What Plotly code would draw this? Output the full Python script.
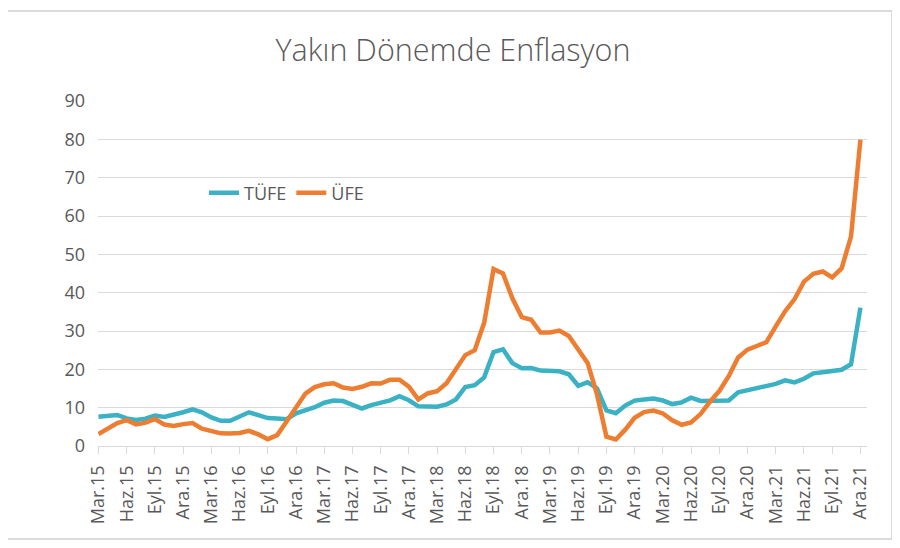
import plotly.graph_objects as go

# ---- data -----------------------------------------------------------
month_abbr = ["Oca", "Şub", "Mar", "Nis", "May", "Haz",
              "Tem", "Ağu", "Eyl", "Eki", "Kas", "Ara"]
start_year, start_month = 2015, 3   # Mar.15
end_year, end_month = 2021, 12      # Ara.21

tufe = [
    7.61, 7.91, 8.09, 7.20, 6.81, 7.14, 7.95, 7.58, 8.10, 8.81,
    9.58, 8.78, 7.46, 6.57, 6.58, 7.64, 8.79, 8.05, 7.28, 7.16, 7.00, 8.53,
    9.22, 10.13, 11.29, 11.87, 11.72, 10.90, 9.79, 10.68, 11.20, 11.90, 12.98, 11.92,
    10.35, 10.26, 10.23, 10.85, 12.15, 15.39, 15.85, 17.90, 24.52, 25.24, 21.62, 20.30,
    20.35, 19.67, 19.71, 19.50, 18.71, 15.72, 16.65, 15.01, 9.26, 8.55, 10.56, 11.84,
    12.15, 12.37, 11.86, 10.94, 11.39, 12.62, 11.76, 11.77, 11.75, 11.89, 14.03, 14.60,
    14.97, 15.61, 16.19, 17.14, 16.59, 17.53, 18.95, 19.25, 19.58, 19.89, 21.31, 36.08,
]

ufe = [
    3.10, 4.71, 6.00, 6.73, 5.62, 6.10, 7.02, 5.60, 5.20, 5.71,
    6.00, 4.50, 3.80, 3.30, 3.25, 3.41, 3.96, 3.03, 1.78, 2.84, 6.41, 9.94,
    13.69, 15.36, 16.09, 16.37, 15.26, 14.87, 15.45, 16.34, 16.28, 17.28, 17.30, 15.47,
    12.14, 13.71, 14.28, 16.37, 20.16, 23.71, 25.00, 32.13, 46.15, 45.01, 38.54, 33.64,
    32.93, 29.59, 29.64, 30.12, 28.71, 25.04, 21.66, 13.45, 2.45, 1.70, 4.26, 7.36,
    8.84, 9.26, 8.50, 6.71, 5.53, 6.17, 8.33, 11.53, 14.33, 18.20, 23.11, 25.15,
    26.16, 27.09, 31.20, 35.17, 38.33, 42.89, 44.92, 45.52, 43.96, 46.31, 54.62, 79.89,
]

tick_labels = [
    "Mar.15", "Haz.15", "Eyl.15", "Ara.15",
    "Mar.16", "Haz.16", "Eyl.16", "Ara.16",
    "Mar.17", "Haz.17", "Eyl.17", "Ara.17",
    "Mar.18", "Haz.18", "Eyl.18", "Ara.18",
    "Mar.19", "Haz.19", "Eyl.19", "Ara.19",
    "Mar.20", "Haz.20", "Eyl.20", "Ara.20",
    "Mar.21", "Haz.21", "Eyl.21", "Ara.21",
]

y_ticks = [0, 10, 20, 30, 40, 50, 60, 70, 80, 90]

# categories: every month Mar.15 .. Ara.21
months = []
y, m = start_year, start_month
while (y, m) <= (end_year, end_month):
    months.append(f"{month_abbr[m - 1]}.{str(y)[2:]}")
    m += 1
    if m > 12:
        m = 1
        y += 1

# ---- figure ---------------------------------------------------------
TEAL = "#3BB1C4"
ORANGE = "#ED7D31"
GRID = "#D9D9D9"
BORDER = "#CFCFCF"
TXT = "#595959"
FONT = "Open Sans"

# the page adds an 8 px body margin; work in page pixels and subtract it
OFF = 8
W, H = 900 - OFF, 548 - OFF
PL, PR, PT, PB = 98, 867, 101, 446          # plot area in page pixels
L, T = PL - OFF, PT - OFF
R, B = W - (PR - OFF), H - (PB - OFF)
pw, ph = PR - PL, PB - PT


def px_x(px):   # page pixel -> paper x
    return (px - PL) / pw


def px_y(py):   # page pixel -> paper y
    return (PB - py) / ph


fig = go.Figure()
fig.add_trace(go.Scatter(x=months, y=tufe, mode="lines", name="TÜFE",
                         line=dict(color=TEAL, width=4.5)))
fig.add_trace(go.Scatter(x=months, y=ufe, mode="lines", name="ÜFE",
                         line=dict(color=ORANGE, width=4.5)))

fig.update_layout(
    width=W, height=H,
    margin=dict(l=L, r=R, t=T, b=B, pad=0),
    paper_bgcolor="white", plot_bgcolor="white",
    font=dict(family=FONT, color=TXT, size=18),
    title=dict(text="Yakın Dönemde Enflasyon", x=(453 - OFF) / W, xref="container",
               xanchor="center", y=1 - (50 - OFF) / H, yref="container",
               yanchor="middle",
               font=dict(family=FONT, size=30.5, color=TXT, weight=300)),
    legend=dict(orientation="h", x=px_x(204), xanchor="left",
                y=px_y(193), yanchor="middle",
                bgcolor="rgba(0,0,0,0)", font=dict(size=18, color=TXT),
                itemwidth=30, tracegroupgap=0),
    showlegend=True,
)

fig.update_xaxes(
    type="category", categoryorder="array", categoryarray=months,
    range=[-0.05, 81.7],
    tickmode="array", tickvals=tick_labels, ticktext=tick_labels,
    tickangle=-90, ticks="outside", ticklen=7, tickwidth=1.3, tickcolor=GRID,
    showline=True, linecolor=GRID, linewidth=1.3,
    showgrid=False, zeroline=False,
    tickfont=dict(family=FONT, size=18, color=TXT),
    ticklabelstandoff=4,
)
fig.update_yaxes(
    range=[0, 90], tickmode="array", tickvals=y_ticks,
    showgrid=True, gridcolor=GRID, gridwidth=1.3,
    zeroline=False, showline=False, ticks="",
    tickfont=dict(family=FONT, size=18, color=TXT),
    ticklabelstandoff=12,
)

# outer chart border
fig.add_shape(type="rect", xref="paper", yref="paper",
              x0=px_x(7), x1=px_x(892),
              y0=px_y(539), y1=px_y(11),
              line=dict(color=BORDER, width=1.5), fillcolor="rgba(0,0,0,0)",
              layer="below")

fig.write_html("out.html")
